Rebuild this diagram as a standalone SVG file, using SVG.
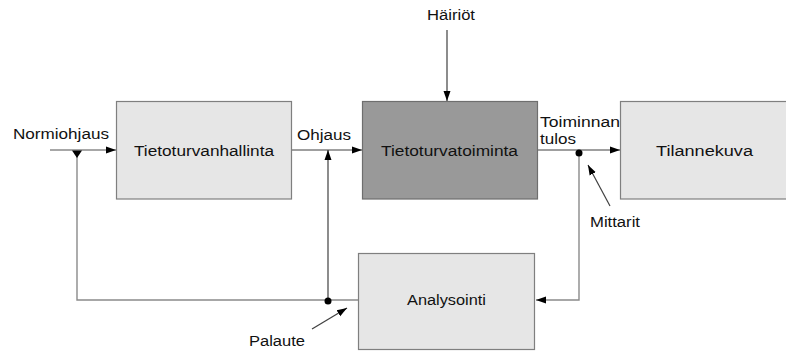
<svg xmlns="http://www.w3.org/2000/svg" width="786" height="351" viewBox="0 0 786 351">
<style>
.box{fill:#e6e6e6;stroke:#7f7f7f;stroke-width:1.2}
.dark{fill:#999999;stroke:#6e6e6e;stroke-width:1.2}
.t{font-family:"Liberation Sans",Arial,sans-serif;font-size:14px;fill:#111}
.ln{fill:none;stroke:#404040;stroke-width:1.2}
.lg{fill:none;stroke:#8a8a8a;stroke-width:1.4}
</style>
<defs>
<marker id="ah" viewBox="0 0 10 10" refX="10" refY="5" markerWidth="10" markerHeight="10" markerUnits="userSpaceOnUse" orient="auto">
<path d="M0,1.5 L10,5 L0,8.5 z" fill="#000"/>
</marker>
</defs>
<rect width="786" height="351" fill="#fff"/>
<g id="connectors">
<line class="lg" x1="50" y1="150" x2="116" y2="150" marker-end="url(#ah)"/>
<polyline class="lg" points="358,300 77,300 77,151"/>
<path d="M72,150.5 L82,150.5 L77,158 z" fill="#000"/>
<line class="ln" x1="292" y1="150" x2="362" y2="150" marker-end="url(#ah)"/>
<line class="ln" x1="328" y1="300" x2="328" y2="150" marker-end="url(#ah)"/>
<circle cx="328" cy="301" r="3.5" fill="#000"/>
<line class="ln" x1="447" y1="30" x2="447" y2="101" marker-end="url(#ah)"/>
<line class="ln" x1="538" y1="150" x2="620" y2="150" marker-end="url(#ah)"/>
<polyline class="lg" points="579,153 579,300 536,300" marker-end="url(#ah)"/>
<circle cx="579" cy="153" r="3.5" fill="#000"/>
<line class="ln" x1="610" y1="206" x2="588" y2="165" marker-end="url(#ah)"/>
<line class="ln" x1="312" y1="329" x2="347" y2="308" marker-end="url(#ah)"/>
</g>
<g id="tietoturvanhallinta">
<rect class="box" x="116.5" y="101.5" width="175" height="97.5"/>
<text class="t" x="134" y="156" textLength="140" lengthAdjust="spacingAndGlyphs">Tietoturvanhallinta</text>
</g>
<g id="tietoturvatoiminta">
<rect class="dark" x="362.5" y="101.5" width="175" height="97.5"/>
<text class="t" x="381" y="156" textLength="137" lengthAdjust="spacingAndGlyphs">Tietoturvatoiminta</text>
</g>
<g id="tilannekuva">
<rect class="box" x="620.5" y="101.5" width="170" height="97.5"/>
<text class="t" x="656" y="156" textLength="97" lengthAdjust="spacingAndGlyphs">Tilannekuva</text>
</g>
<g id="analysointi">
<rect class="box" x="358.5" y="253.5" width="176" height="96"/>
<text class="t" x="407" y="305" textLength="79" lengthAdjust="spacingAndGlyphs">Analysointi</text>
</g>
<g id="labels">
<text class="t" x="13" y="139" textLength="96" lengthAdjust="spacingAndGlyphs">Normiohjaus</text>
<text class="t" x="297" y="140" textLength="54" lengthAdjust="spacingAndGlyphs">Ohjaus</text>
<text class="t" x="427" y="20" textLength="48" lengthAdjust="spacingAndGlyphs">Häiriöt</text>
<text class="t" x="540" y="127" textLength="80" lengthAdjust="spacingAndGlyphs">Toiminnan</text>
<text class="t" x="540" y="144" textLength="36" lengthAdjust="spacingAndGlyphs">tulos</text>
<text class="t" x="590" y="227" textLength="50" lengthAdjust="spacingAndGlyphs">Mittarit</text>
<text class="t" x="249" y="346" textLength="56" lengthAdjust="spacingAndGlyphs">Palaute</text>
</g>
</svg>
